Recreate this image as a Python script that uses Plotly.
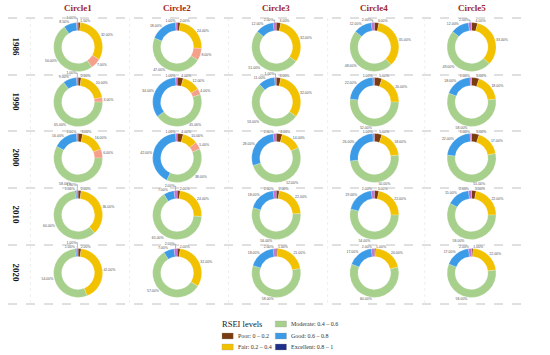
import plotly.graph_objects as go

# ---------------- data ----------------
columns = ["Circle1", "Circle2", "Circle3", "Circle4", "Circle5"]
years = ["1986", "1990", "2000", "2010", "2020"]
levels = ["Poor: 0 – 0.2", "Fair: 0.2 – 0.4", "Other", "Moderate: 0.4 – 0.6",
          "Good: 0.6 – 0.8", "Excellent: 0.8 – 1"]
legend_levels = ["Poor: 0 – 0.2", "Fair: 0.2 – 0.4", "Moderate: 0.4 – 0.6",
                 "Good: 0.6 – 0.8", "Excellent: 0.8 – 1"]

# percent shares, rows = years, cols = circles
poor = [[1.5, 2.0, 3.0, 3.0, 4.0],
        [2.0, 4.0, 3.0, 5.0, 5.0],
        [3.0, 4.0, 4.0, 5.0, 5.0],
        [2.0, 2.0, 2.0, 3.0, 3.0],
        [2.0, 2.0, 1.0, 1.0, 1.0]]
fair = [[32.0, 24.0, 32.0, 35.0, 33.0],
        [20.0, 12.0, 32.0, 20.0, 18.0],
        [16.0, 10.0, 14.0, 18.0, 17.0],
        [36.0, 24.0, 22.0, 22.0, 22.0],
        [42.0, 32.0, 21.0, 20.0, 22.0]]
other = [[7.0, 8.0, 0.0, 0.0, 0.0],
         [3.0, 4.0, 0.0, 0.0, 0.0],
         [6.0, 5.0, 0.0, 0.0, 0.0],
         [0.0, 0.0, 0.0, 0.0, 0.0],
         [0.0, 0.0, 0.0, 0.0, 0.0]]
moderate = [[50.0, 47.0, 51.0, 48.0, 49.0],
            [65.0, 45.0, 53.0, 52.0, 58.0],
            [58.0, 38.0, 52.0, 50.0, 55.0],
            [60.0, 65.0, 56.0, 54.0, 58.0],
            [54.0, 57.0, 58.0, 60.0, 58.0]]
good = [[8.5, 18.0, 12.0, 12.0, 12.0],
        [9.0, 34.0, 11.0, 22.0, 18.0],
        [16.0, 42.0, 28.0, 26.0, 22.0],
        [1.0, 7.0, 18.0, 19.0, 15.0],
        [1.0, 7.0, 18.0, 17.0, 17.0]]
excellent = [[1.0, 1.0, 2.0, 2.0, 2.0],
             [1.0, 1.0, 1.0, 1.0, 1.0],
             [1.0, 1.0, 2.0, 1.0, 1.0],
             [1.0, 2.0, 2.0, 2.0, 2.0],
             [1.0, 2.0, 2.0, 2.0, 2.0]]

slice_colors = ["#7A3B10", "#F2C200", "#F4A08A", "#A8D08D", "#3C9BE6", "#C272D6"]
legend_colors = ["#7A3B10", "#F2C200", "#A8D08D", "#3C9BE6", "#1F2E86"]

# ---------------- layout constants ----------------
W, H = 550, 355
col_x = [75, 181, 287, 392, 496]
row_y = [47, 102, 158, 215, 273]
hlines = [18, 75, 131, 188, 245, 304]
vlines = [24, 130, 236, 342, 446]

def px(x):
    return x / W

def py(y):
    return 1 - y / H

fig = go.Figure()

for r in range(len(years)):
    for c in range(len(columns)):
        vals = [poor[r][c], fair[r][c], other[r][c], moderate[r][c],
                good[r][c], excellent[r][c]]
        keep = [i for i, v in enumerate(vals) if v > 0]
        cx, cy = col_x[c], row_y[r]
        hw = min(46, W - cx, cx)
        hh = 24.5
        fig.add_trace(go.Pie(
            labels=[levels[i] for i in keep], values=[vals[i] for i in keep],
            marker=dict(colors=[slice_colors[i] for i in keep],
                        line=dict(color="white", width=0.2)),
            hole=0.67, sort=False, direction="clockwise", rotation=0,
            textposition="outside", texttemplate="%{percent:.2%}",
            textfont=dict(size=3.5, color="#555", family="Liberation Sans"),
            showlegend=False, hoverinfo="label+percent",
            domain=dict(x=[px(cx - hw), px(cx + hw)], y=[py(cy + hh), py(cy - hh)]),
        ))

shapes = []
for y in hlines:
    shapes.append(dict(type="line", xref="paper", yref="paper", x0=0, x1=1,
                       y0=py(y), y1=py(y), line=dict(color="#b0b0b0", width=0.8, dash="dash")))
for x in vlines:
    shapes.append(dict(type="line", xref="paper", yref="paper", x0=px(x), x1=px(x),
                       y0=py(hlines[0]), y1=py(hlines[-1]),
                       line=dict(color="#e4e4e4", width=0.6, dash="dot")))

annotations = []
for c, name in enumerate(columns):
    annotations.append(dict(x=px(col_x[c]), y=py(8), xref="paper", yref="paper",
                            text="<b>%s</b>" % name, showarrow=False,
                            font=dict(family="Liberation Serif", size=9, color="#A0281E"),
                            xanchor="center", yanchor="middle"))
for r, yr in enumerate(years):
    annotations.append(dict(x=px(9), y=py(row_y[r]), xref="paper", yref="paper",
                            text="<b>%s</b>" % yr, showarrow=False, textangle=90,
                            font=dict(family="Liberation Serif", size=9, color="#111"),
                            xanchor="center", yanchor="middle"))

# legend drawn manually
annotations.append(dict(x=px(227), y=py(324), xref="paper", yref="paper",
                        text="RSEI levels", showarrow=False,
                        font=dict(family="Liberation Serif", size=8.5, color="#222"),
                        xanchor="left", yanchor="middle"))
leg_pos = [(229, 336), (229, 347), (286, 324), (286, 336), (286, 347)]
for (lx, ly), name, col in zip(leg_pos, legend_levels, legend_colors):
    shapes.append(dict(type="rect", xref="paper", yref="paper",
                       x0=px(lx), x1=px(lx + 12), y0=py(ly + 3), y1=py(ly - 3),
                       fillcolor=col, line=dict(color="#999", width=0.3)))
    annotations.append(dict(x=px(lx + 15), y=py(ly), xref="paper", yref="paper",
                            text=name, showarrow=False,
                            font=dict(family="Liberation Serif", size=6, color="#333"),
                            xanchor="left", yanchor="middle"))

fig.update_layout(width=W, height=H, margin=dict(l=0, r=0, t=0, b=0),
                  paper_bgcolor="white", plot_bgcolor="white",
                  shapes=shapes, annotations=annotations)

fig.write_html("out.html", config={"displayModeBar": False},
               post_script="document.body.style.margin='0px';")
